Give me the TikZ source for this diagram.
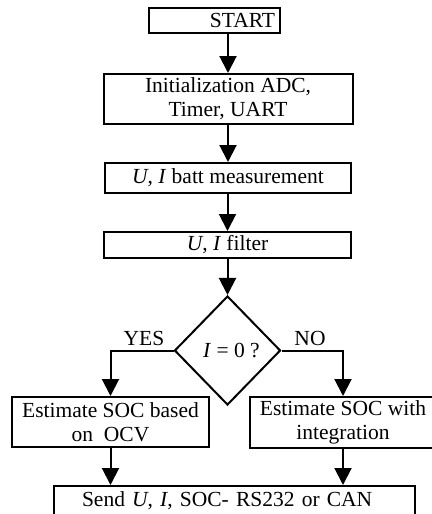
\documentclass[tikz,border=0pt]{standalone}
\usepackage{fontspec}
\setmainfont{Liberation Serif}
\usetikzlibrary{shapes.geometric,arrows.meta}

\tikzset{
  blk/.style={draw,rectangle,line width=1pt,inner sep=0pt,align=center},
  cond/.style={draw,diamond,line width=1pt,inner sep=0pt},
  arr/.style={line width=1pt,-{Triangle[length=8.5pt,width=8.5pt]}}
}

\begin{document}
\begin{tikzpicture}[x=0.5pt,y=-0.5pt,font=\fontsize{10.75}{12}\selectfont]
    \useasboundingbox (0,0) rectangle (432,514);
    % main chain
    \node[blk,minimum width=65.5pt,minimum height=12.5pt,text width=60.5pt,align=right] (start) at (214.5,20.5) {START};
    \node[blk,minimum width=124.5pt,minimum height=25pt] (init) at (228,99) {Initialization ADC,\\Timer, UART};
    \node[blk,minimum width=123pt,minimum height=15pt] (batt) at (228,178) {\textit{U}, \textit{I} batt measurement};
    \node[blk,minimum width=123.5pt,minimum height=13pt] (filt) at (227.5,245) {\textit{U}, \textit{I} filter};
    \node[cond,minimum width=53pt,minimum height=54.5pt] (test) at (227.5,350.5) {\hspace*{4pt}\textit{I} = 0 ?};
    \node (yes) at (144,338) {YES};
    \node (no) at (310,338) {NO};
    % two branches
    \node[blk,minimum width=98.5pt,minimum height=25pt] (ocv) at (110.5,422) {Estimate SOC based\\on\ \ OCV};
    \node[blk,minimum width=93pt,minimum height=25.5pt] (integ) at (343,422.5) {Estimate SOC with\\integration};
    \node[blk,minimum width=180.5pt,minimum height=15pt,inner xsep=14pt,text width=152.5pt,align=left] (send) at (234.5,501) {Send \textit{U}, \textit{I}, SOC- RS232 or CAN};
    \draw[arr] (start.south -| init.north) -- (init.north);
    \draw[arr] (init) -- (batt);
    \draw[arr] (batt.south -| filt.north) -- (filt.north);
    \draw[arr] (filt) -- (test);
    \draw[arr] (test.west) -| (ocv.north);
    \draw[arr] (test.east) -| (integ.north);
    \draw[arr] (ocv.south) -- (ocv.south |- send.north);
    \draw[arr] (integ.south) -- (integ.south |- send.north);
\end{tikzpicture}
\end{document}
